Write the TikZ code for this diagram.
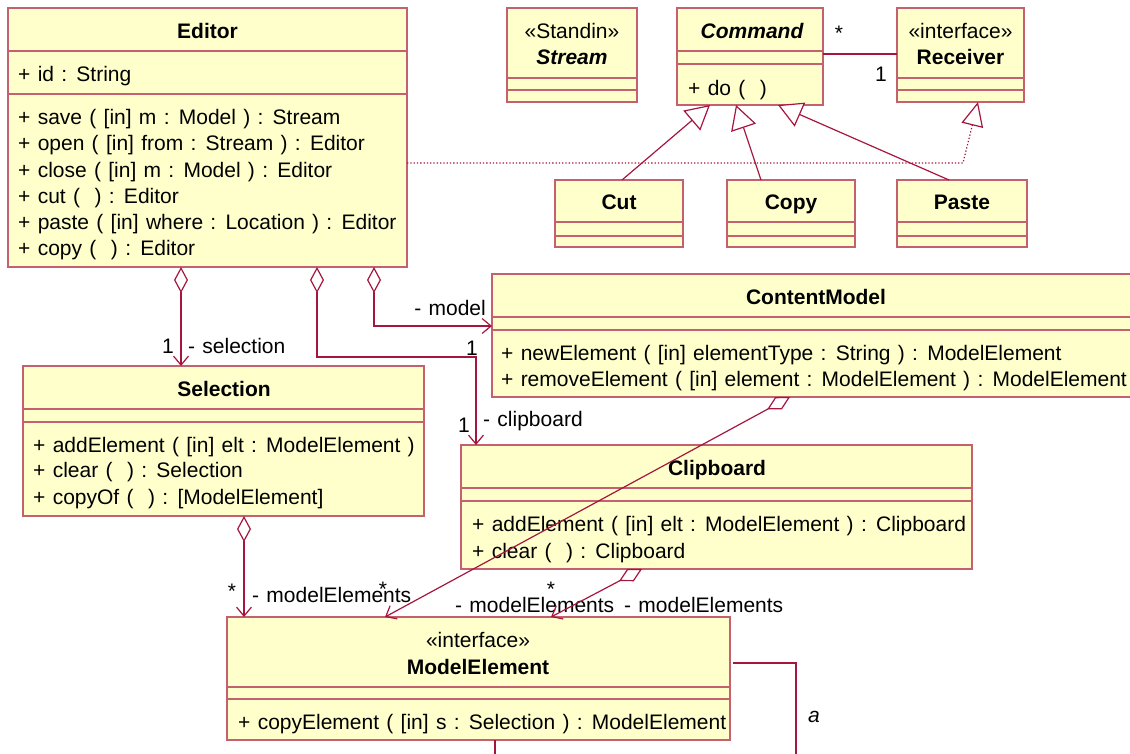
\documentclass[tikz,border=0pt]{standalone}
\usepackage{fontspec}
\setmainfont[WordSpace=1.25]{Liberation Sans}
\usetikzlibrary{arrows.meta}
\definecolor{boxline}{RGB}{196,96,112}
\definecolor{conn}{RGB}{165,22,62}
\definecolor{boxfill}{RGB}{255,255,204}
\tikzset{
  cls/.style={draw=boxline, fill=boxfill, line width=1.2pt, inner sep=0pt, outer sep=0pt, anchor=north west},
  sepl/.style={draw=boxline, line width=1.2pt},
  txt/.style={font=\fontsize{21}{25}\selectfont, inner sep=0pt, text=black},
  ttl/.style={txt, font=\fontsize{21}{25}\selectfont\bfseries},
  ittl/.style={txt, font=\fontsize{21}{25}\selectfont\bfseries\itshape},
  lbl/.style={txt},
  connl/.style={draw=conn, line width=1.2pt},
  agg/.style={connl, {Diamond[length=26pt,width=14pt,fill=white]}-{Straight Barb[length=9pt,width=15pt]}},
  gen/.style={connl, -{Triangle[length=24pt,width=26pt,fill=white]}},
  real/.style={connl, dash pattern=on 1.3pt off 2pt, -{Triangle[length=24pt,width=22pt,fill=white]}},
}
\begin{document}
\begin{tikzpicture}[x=1pt,y=-1pt]
\useasboundingbox (0,0) rectangle (1130,753);
\clip (0,0) rectangle (1130,753);

% ---------- class boxes ----------
\node[cls, minimum width=399pt, minimum height=259pt] (editor) at (8,8) {};
\node[cls, minimum width=130pt, minimum height=94pt] (stream) at (507,8) {};
\node[cls, minimum width=146pt, minimum height=97pt] (command) at (677,8) {};
\node[cls, minimum width=127pt, minimum height=94pt] (receiver) at (897,8) {};
\node[cls, minimum width=128pt, minimum height=67pt] (cut) at (555,180) {};
\node[cls, minimum width=128pt, minimum height=67pt] (copy) at (727,180) {};
\node[cls, minimum width=130pt, minimum height=67pt] (paste) at (897,180) {};
\node[cls, minimum width=648pt, minimum height=123pt] (contentmodel) at (492,274) {};
\node[cls, minimum width=401pt, minimum height=150pt] (selection) at (23,366) {};
\node[cls, minimum width=511pt, minimum height=124pt] (clipboard) at (461,445) {};
\node[cls, minimum width=503pt, minimum height=123pt] (modelelement) at (227,617) {};

% ---------- compartment separators ----------
\draw[sepl] (8,51) -- (407,51);  \draw[sepl] (8,94) -- (407,94);
\draw[sepl] (507,78) -- (637,78); \draw[sepl] (507,90) -- (637,90);
\draw[sepl] (677,51) -- (823,51); \draw[sepl] (677,64) -- (823,64);
\draw[sepl] (897,78) -- (1024,78); \draw[sepl] (897,90) -- (1024,90);
\draw[sepl] (555,222) -- (683,222); \draw[sepl] (555,236) -- (683,236);
\draw[sepl] (727,222) -- (855,222); \draw[sepl] (727,236) -- (855,236);
\draw[sepl] (897,222) -- (1027,222); \draw[sepl] (897,236) -- (1027,236);
\draw[sepl] (492,317) -- (1140,317); \draw[sepl] (492,330) -- (1140,330);
\draw[sepl] (23,409) -- (424,409); \draw[sepl] (23,422) -- (424,422);
\draw[sepl] (461,488) -- (972,488); \draw[sepl] (461,501) -- (972,501);
\draw[sepl] (227,687) -- (730,687); \draw[sepl] (227,699) -- (730,699);

% ---------- texts ----------
\node[ttl, anchor=base] (edT) at (207.5,38) {Editor};
\node[txt, anchor=base west] (ed0) at (18,81) {+ id : String};
\node[txt, anchor=base west] (ed1) at (18,124) {+ save ( [in] m : Model ) : Stream};
\node[txt, anchor=base west] (ed2) at (18,150) {+ open ( [in] from : Stream ) : Editor};
\node[txt, anchor=base west] (ed3) at (18,177) {+ close ( [in] m : Model ) : Editor};
\node[txt, anchor=base west] (ed4) at (18,203) {+ cut (~~) : Editor};
\node[txt, anchor=base west] (ed5) at (18,229) {+ paste ( [in] where : Location ) : Editor};
\node[txt, anchor=base west] (ed6) at (18,255) {+ copy (~~) : Editor};

\node[txt, anchor=base] (stS) at (572,38) {«Standin»};
\node[ittl, anchor=base] (stT) at (572,64) {Stream};

\node[ittl, anchor=base] (cmT) at (752,38) {Command};
\node[txt, anchor=base west] (cm1) at (688,95) {+ do (~~)};

\node[txt, anchor=base] (rcS) at (960.5,38) {«interface»};
\node[ttl, anchor=base] (rcT) at (960.5,64) {Receiver};

\node[ttl, anchor=base] (cuT) at (619,209) {Cut};
\node[ttl, anchor=base] (coT) at (791,209) {Copy};
\node[ttl, anchor=base] (paT) at (962,209) {Paste};

\node[ttl, anchor=base] (cmdT) at (816,304) {ContentModel};
\node[txt, anchor=base west] (cm2) at (501,360) {+ newElement ( [in] elementType : String ) : ModelElement};
\node[txt, anchor=base west] (cm3) at (501,386) {+ removeElement ( [in] element : ModelElement ) : ModelElement};

\node[ttl, anchor=base] (seT) at (224,396) {Selection};
\node[txt, anchor=base west] (se1) at (33,452) {+ addElement ( [in] elt : ModelElement )};
\node[txt, anchor=base west] (se2) at (33,477) {+ clear (~~) : Selection};
\node[txt, anchor=base west] (se3) at (33,504) {+ copyOf (~~) : [ModelElement]};

\node[ttl, anchor=base] (cbT) at (717,475) {Clipboard};
\node[txt, anchor=base west] (cb1) at (472,531) {+ addElement ( [in] elt : ModelElement ) : Clipboard};
\node[txt, anchor=base west] (cb2) at (472,558) {+ clear (~~) : Clipboard};

\node[txt, anchor=base] (meS) at (478,647) {«interface»};
\node[ttl, anchor=base] (meT) at (478,674) {ModelElement};
\node[txt, anchor=base west] (me1) at (238,729) {+ copyElement ( [in] s : Selection ) : ModelElement};

% ---------- connectors ----------
\draw[connl] ([yshift=-46pt]command.north east) -- ([yshift=-46pt]receiver.north west);
\node[lbl] (l1) at (839,33) {*};
\node[lbl] (l2) at (881,74) {1};

\draw[gen] ([xshift=67pt]cut.north west) -- ([xshift=33pt]command.south west);
\draw[gen] ([xshift=34pt]copy.north west) -- ([xshift=59pt]command.south west);
\draw[gen] ([xshift=52pt]paste.north west) -- ([xshift=101pt]command.south west);

\coordinate (rb) at (963,163);
\draw[real] ([yshift=-155pt]editor.north east) -- (rb) -- ([xshift=81pt]receiver.south west);

% Editor -> Selection
\draw[agg] ([xshift=173pt]editor.south west) -- ([xshift=158pt]selection.north west);
\node[lbl] (l3) at (168,346) {1};
\node[lbl, anchor=base west] (l4) at (188,353) {- selection};

% Editor -> Clipboard
\coordinate (cbb) at (476,357);
\draw[agg] ([xshift=309pt]editor.south west) |- (cbb) -- ([xshift=15pt]clipboard.north west);
\node[lbl] (l5) at (464,425) {1};
\node[lbl, anchor=base west] (l6) at (483,426) {- clipboard};

% Editor -> ContentModel
\draw[agg] ([xshift=366pt]editor.south west) |- ([yshift=9.5pt]contentmodel.west);
\node[lbl, anchor=base east] (l7) at (486,315) {- model};
\node[lbl] (l8) at (472,348) {1};

% Selection -> ModelElement
\draw[agg] ([xshift=221pt]selection.south west) -- ([xshift=17pt]modelelement.north west);
\node[lbl] (l9) at (232,591) {*};
\node[lbl, anchor=base west] (l10) at (252,602) {- modelElements};

% ContentModel -> ModelElement
\draw[agg] ([xshift=298pt]contentmodel.south west) -- ([xshift=158pt]modelelement.north west);
\node[lbl] (l11) at (383,589) {*};
\node[lbl, anchor=base west] (l12) at (455,612) {- modelElements};

% Clipboard -> ModelElement
\draw[agg] ([xshift=181pt]clipboard.south west) -- ([xshift=324pt]modelelement.north west);
\node[lbl] (l13) at (551,589) {*};
\node[lbl, anchor=base west] (l14) at (624,612) {- modelElements};

% self association
\coordinate (sa) at (796,663);
\coordinate (sb) at (796,770);
\coordinate (sc) at (495,770);
\draw[connl] ([xshift=3pt,yshift=15.5pt]modelelement.east) -- (sa) -- (sb);
\draw[connl] ([xshift=268pt]modelelement.south west) -- (sc);
\node[lbl, font=\fontsize{21}{25}\selectfont\itshape, anchor=base] (l15) at (814,722) {a};
\end{tikzpicture}
\end{document}
